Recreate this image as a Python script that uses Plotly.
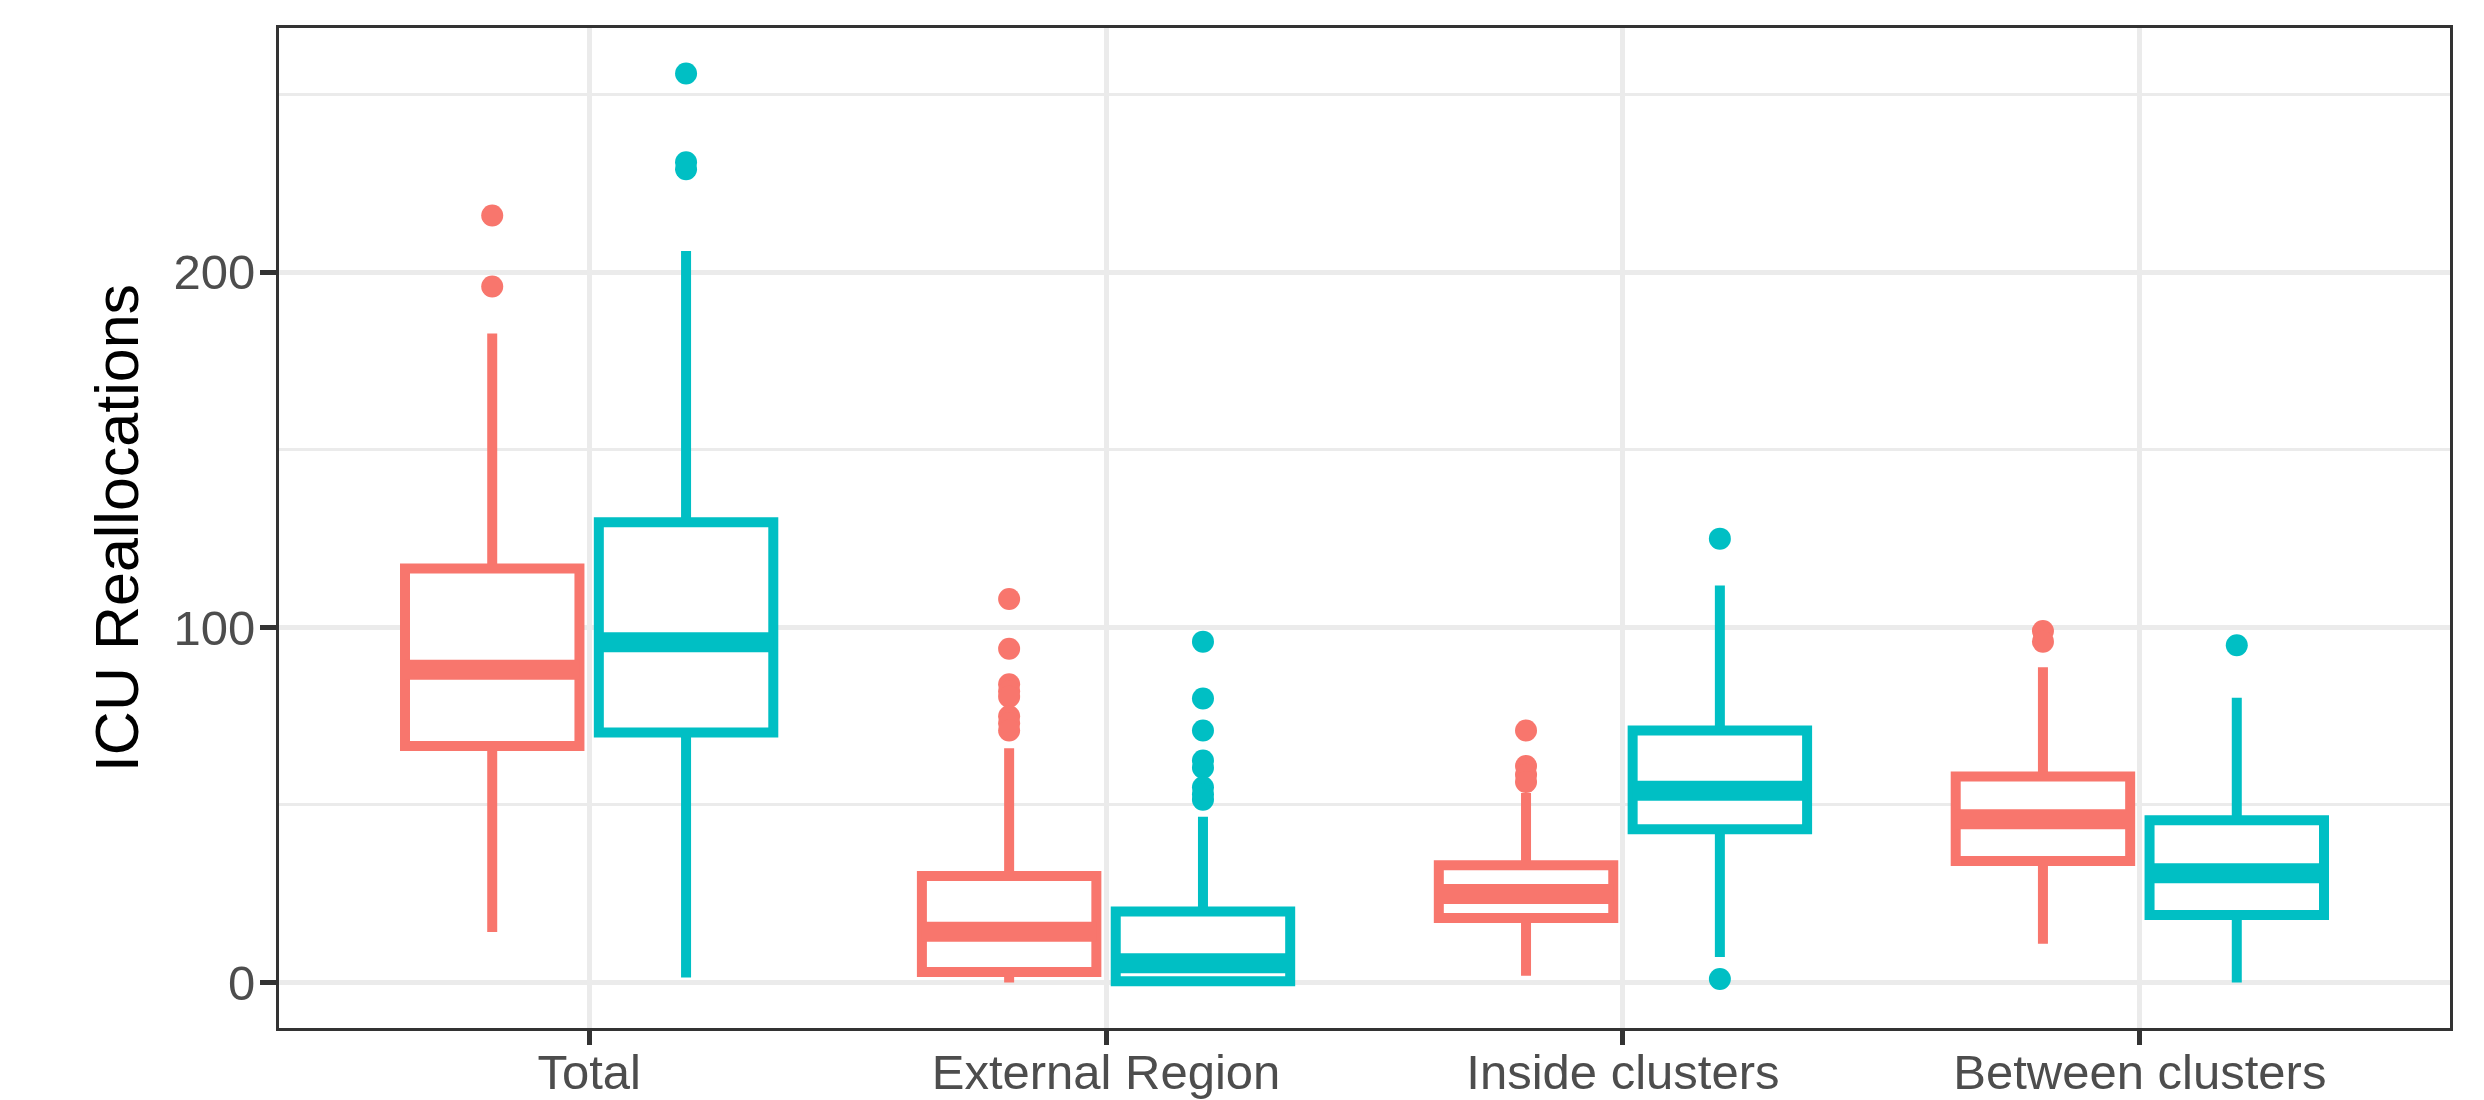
import plotly.graph_objects as go

categories = ["Total", "External Region", "Inside clusters", "Between clusters"]
positions = [1, 2, 3, 4]

# Group A (red)
a_q1 = [66.6, 3.0, 18.2, 34.2]
a_median = [88.1, 14.3, 24.9, 46.0]
a_q3 = [116.6, 30.0, 33.0, 58.0]
a_lower = [14.2, 0.0, 1.9, 10.9]
a_upper = [182.8, 66.0, 53.4, 88.8]
a_outliers = [[216, 196],
              [108, 94, 84, 82, 80.5, 75, 73, 71],
              [71, 61, 58.5, 56.5],
              [99, 96]]

# Group B (teal)
b_q1 = [70.4, 0.4, 43.2, 19.0]
b_median = [95.8, 5.4, 54.0, 30.8]
b_q3 = [129.6, 20.0, 71.0, 45.7]
b_lower = [1.4, 0.0, 7.2, 0.0]
b_upper = [206.0, 46.7, 111.8, 80.2]
b_outliers = [[256, 231, 229],
              [96, 80, 71, 62.5, 60.5, 55, 53, 51.5],
              [125, 1],
              [95]]

y_ticks = [0, 100, 200]
y_minor = [50, 150, 250]

RED = "#F8766D"
TEAL = "#00BFC4"
DODGE = 0.1875
BOXW = 0.3375
LW = 10

fig = go.Figure()

groups = [
    ("Group A", RED, -DODGE, a_q1, a_median, a_q3, a_lower, a_upper, a_outliers),
    ("Group B", TEAL, DODGE, b_q1, b_median, b_q3, b_lower, b_upper, b_outliers),
]

for name, color, off, q1, med, q3, lo, up, outs in groups:
    xs = [p + off for p in positions]
    fig.add_trace(go.Box(
        x=xs, q1=q1, median=med, q3=q3, lowerfence=lo, upperfence=up,
        width=BOXW, whiskerwidth=0, boxpoints=False,
        fillcolor="white", line=dict(color=color, width=LW),
        name=name, showlegend=False, hoverinfo="skip",
    ))
    # thick median segments
    mx, my = [], []
    for x, m in zip(xs, med):
        mx += [x - BOXW / 2, x + BOXW / 2, None]
        my += [m, m, None]
    fig.add_trace(go.Scatter(
        x=mx, y=my, mode="lines", line=dict(color=color, width=2 * LW),
        showlegend=False, hoverinfo="skip",
    ))
    ox, oy = [], []
    for x, o in zip(xs, outs):
        ox += [x] * len(o)
        oy += o
    fig.add_trace(go.Scatter(
        x=ox, y=oy, mode="markers",
        marker=dict(color=color, size=22, line=dict(width=0)),
        showlegend=False, hoverinfo="skip",
    ))

fig.update_layout(
    width=2484, height=1100,
    margin=dict(l=271, r=42, t=20, b=80),
    paper_bgcolor="white", plot_bgcolor="white",
    font=dict(family="Liberation Sans, Arial, sans-serif", color="#4D4D4D"),
    showlegend=False,
)

fig.update_xaxes(
    range=[0.4, 4.6], tickvals=positions, ticktext=categories, automargin=False,
    showgrid=True, gridcolor="#EBEBEB", gridwidth=4.5, zeroline=False,
    showline=True, mirror=True, linecolor="#333333", linewidth=3,
    ticks="outside", ticklen=14, tickwidth=4.5, tickcolor="#333333",
    ticklabelstandoff=-15,
    tickfont=dict(size=49, color="#4D4D4D"),
)
fig.update_yaxes(
    range=[-12.8, 268.8], tickvals=y_ticks, automargin=False,
    showgrid=True, gridcolor="#EBEBEB", gridwidth=4.5, zeroline=False,
    minor=dict(tickvals=y_minor, showgrid=True, gridcolor="#EBEBEB", gridwidth=2.5, ticks=""),
    showline=True, mirror=True, linecolor="#333333", linewidth=3,
    ticks="outside", ticklen=16, tickwidth=4.5, tickcolor="#333333",
    ticklabelstandoff=-5,
    tickfont=dict(size=49, color="#4D4D4D"),
    title=dict(text="ICU Reallocations", font=dict(size=61, color="black"), standoff=16),
)

fig.write_html("out.html")
